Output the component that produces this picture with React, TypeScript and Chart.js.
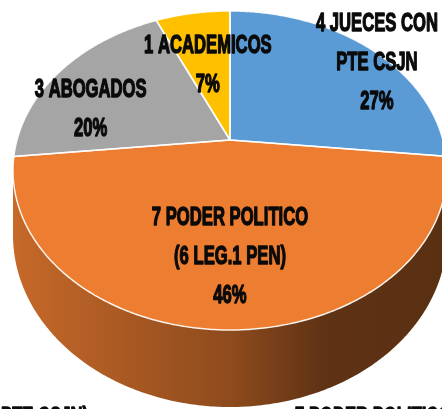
import React, { useEffect, useRef } from "react";
import { Chart, registerables } from "chart.js";

Chart.register(...registerables);

// ---- data ----
const categories = [
  "4 JUECES CON PTE CSJN",
  "7 PODER POLITICO (6 LEG.1 PEN)",
  "3 ABOGADOS",
  "1 ACADEMICOS",
];
const counts = [4, 7, 3, 1];
const percentLabels = ["27%", "46%", "20%", "7%"];
const labelLines = [
  ["4 JUECES CON", "PTE CSJN"],
  ["7 PODER POLITICO", "(6 LEG.1 PEN)"],
  ["3 ABOGADOS"],
  ["1 ACADEMICOS"],
];
const legendLabels = ["4 JUECES CON PTE CSJN)", "7 PODER POLITICO (6 LEG.1 PEN)"];

// ---- style ----
const sliceColors = ["#5B9BD5", "#ED7D31", "#A5A5A5", "#FFC000"];
const TILT = 0.7216;
const PERSP = 0.191;
const DEPTH = 0.2925;
const LABEL_RADIUS = [0.943, 0.665, 0.711, 0.551];
const LABEL_SHIFT_DEG = [6, 0, -13, 0];
const FONT = 'bold 26px "Liberation Sans", Arial, sans-serif';
const SX = 0.64;
const LINE_H = 39;

function shade(hex: string, f: number) {
  const n = parseInt(hex.slice(1), 16);
  const r = Math.round(((n >> 16) & 255) * f);
  const g = Math.round(((n >> 8) & 255) * f);
  const b = Math.round((n & 255) * f);
  return `rgb(${r},${g},${b})`;
}

function geometry(chart: any) {
  const arcs = chart.getDatasetMeta(0).data as any[];
  if (!arcs.length) return null;
  const X0 = arcs[0].x;
  const Y0 = arcs[0].y;
  const R = arcs[0].outerRadius;
  const proj = (a: number, r: number, h: number) => {
    const u = r * Math.cos(a);
    const v = r * Math.sin(a);
    const d = 1 - PERSP * v;
    return [X0 + (R * u) / d, Y0 + (R * (TILT * v + DEPTH * h)) / d];
  };
  return { arcs, X0, Y0, R, proj };
}

function drawText(ctx: CanvasRenderingContext2D, text: string, x: number, y: number) {
  ctx.save();
  ctx.translate(x, y);
  ctx.scale(SX, 1);
  ctx.strokeText(text, 0, 0);
  ctx.fillText(text, 0, 0);
  ctx.restore();
}

const pie3d = {
  id: "pie3d",
  beforeDatasetsDraw(chart: any) {
    const g = geometry(chart);
    if (!g) return false;
    const { arcs, X0, R, proj } = g;
    const ctx: CanvasRenderingContext2D = chart.ctx;
    const aR = Math.asin(PERSP);
    const aL = Math.PI - aR;
    const TWO_PI = Math.PI * 2;

    // side walls
    arcs.forEach((el: any, i: number) => {
      for (const k of [-1, 0, 1]) {
        const s = Math.max(el.startAngle + k * TWO_PI, aR);
        const e = Math.min(el.endAngle + k * TWO_PI, aL);
        if (e <= s) continue;
        const n = Math.max(2, Math.ceil((e - s) / 0.01));
        ctx.beginPath();
        for (let j = 0; j <= n; j++) {
          const a = s + ((e - s) * j) / n;
          const [x, y] = proj(a, 1, 0);
          if (j === 0) ctx.moveTo(x, y);
          else ctx.lineTo(x, y);
        }
        for (let j = n; j >= 0; j--) {
          const a = s + ((e - s) * j) / n;
          const [x, y] = proj(a, 1, 1);
          ctx.lineTo(x, y);
        }
        ctx.closePath();
        const grad = ctx.createLinearGradient(X0 - R, 0, X0 + R, 0);
        grad.addColorStop(0, shade(sliceColors[i], 0.83));
        grad.addColorStop(0.5, shade(sliceColors[i], 0.6));
        grad.addColorStop(0.72, shade(sliceColors[i], 0.4));
        grad.addColorStop(1, shade(sliceColors[i], 0.38));
        ctx.fillStyle = grad;
        ctx.fill();
      }
    });

    // top face
    const paths: Path2D[] = [];
    arcs.forEach((el: any, i: number) => {
      const p = new Path2D();
      const [cx, cy] = proj(0, 0, 0);
      p.moveTo(cx, cy);
      const s = el.startAngle;
      const e = el.endAngle;
      const n = Math.max(2, Math.ceil((e - s) / 0.01));
      for (let j = 0; j <= n; j++) {
        const a = s + ((e - s) * j) / n;
        const [x, y] = proj(a, 1, 0);
        p.lineTo(x, y);
      }
      p.closePath();
      ctx.fillStyle = sliceColors[i];
      ctx.fill(p);
      paths.push(p);
    });
    ctx.save();
    ctx.strokeStyle = "rgba(255,255,255,0.9)";
    ctx.lineWidth = 1.5;
    ctx.lineJoin = "round";
    paths.forEach((p) => ctx.stroke(p));
    ctx.restore();
    return false;
  },
  afterDraw(chart: any) {
    const g = geometry(chart);
    if (!g) return;
    const { arcs, proj } = g;
    const ctx: CanvasRenderingContext2D = chart.ctx;
    ctx.save();
    ctx.font = FONT;
    ctx.fillStyle = "#0a0a0a";
    ctx.strokeStyle = "#0a0a0a";
    ctx.lineWidth = 1.4;
    ctx.lineJoin = "round";
    ctx.textAlign = "center";
    ctx.textBaseline = "middle";
    arcs.forEach((el: any, i: number) => {
      const mid = (el.startAngle + el.endAngle) / 2 + (LABEL_SHIFT_DEG[i] * Math.PI) / 180;
      const [cx, cy] = proj(mid, LABEL_RADIUS[i], 0);
      const lines = [...labelLines[i], percentLabels[i]];
      lines.forEach((t, j) => {
        drawText(ctx, t, cx, cy + (j - (lines.length - 1) / 2) * LINE_H);
      });
    });
    // bottom legend (cut off by the frame)
    ctx.textBaseline = "alphabetic";
    ctx.textAlign = "right";
    drawText(ctx, legendLabels[0], 88, 425);
    ctx.textAlign = "left";
    drawText(ctx, legendLabels[1], 295, 425);
    ctx.restore();
  },
};

export default function App() {
  const ref = useRef<HTMLCanvasElement>(null);
  useEffect(() => {
    const chart = new Chart(ref.current as HTMLCanvasElement, {
      type: "pie",
      data: {
        labels: categories,
        datasets: [
          {
            data: counts,
            backgroundColor: sliceColors,
            borderColor: "#ffffff",
            borderWidth: 1.5,
          },
        ],
      },
      options: {
        responsive: false,
        animation: false,
        radius: 213,
        layout: { padding: { left: 18, right: 0, top: 0, bottom: 129 } },
        plugins: {
          legend: { display: false },
          tooltip: { enabled: false },
        },
      } as any,
      plugins: [pie3d as any],
    });
    return () => chart.destroy();
  }, []);
  return (
    <canvas
      ref={ref}
      width={442}
      height={409}
      style={{ position: "fixed", left: 0, top: 0, width: 442, height: 409, background: "#fff" }}
    />
  );
}
